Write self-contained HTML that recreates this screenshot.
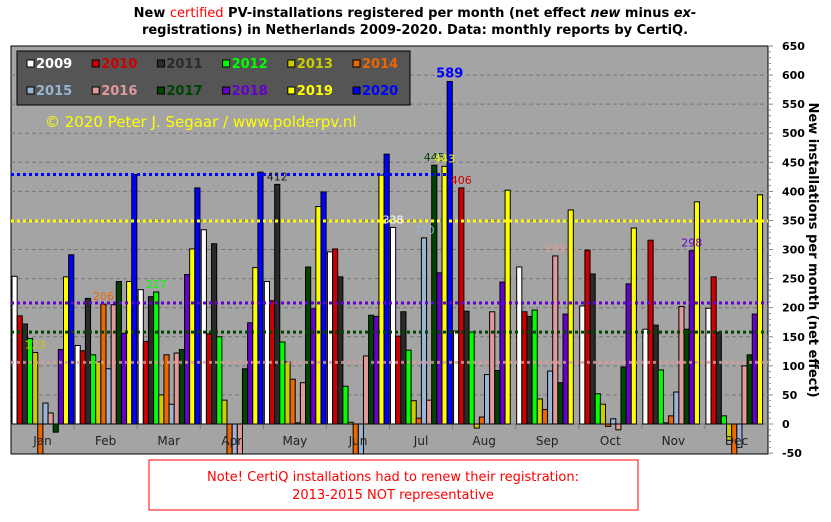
<!DOCTYPE html>
<html><head><meta charset="utf-8"><style>
body{margin:0;background:#fff;font-family:"Liberation Sans","DejaVu Sans",sans-serif}
svg text{font-family:"DejaVu Sans","Liberation Sans",sans-serif}
</style></head><body>
<svg id="c" width="831" height="517" xmlns="http://www.w3.org/2000/svg">
<text x="415" y="17" text-anchor="middle" font-size="13" font-weight="bold">New <tspan fill="#ff0000" font-weight="normal">certified</tspan> PV-installations registered per month (net effect <tspan font-style="italic">new</tspan> minus <tspan font-style="italic">ex-</tspan></text>
<text x="415" y="34" text-anchor="middle" font-size="13" font-weight="bold">registrations) in Netherlands 2009-2020. Data: monthly reports by CertiQ.</text>
<rect x="11" y="46" width="757" height="408" fill="#a4a4a4" stroke="#000"/>
<g id="grid"></g><g id="bars"></g><g id="avg"></g><g id="lbl"></g><g id="axis"></g>
<rect x="17" y="51" width="393" height="54" fill="#555" stroke="#000"/>
<g id="leg"></g>
<text x="45" y="127" font-size="15" fill="#ffff00" font-family="Liberation Sans">© 2020 Peter J. Segaar / www.polderpv.nl</text>
<text x="0" y="0" transform="translate(809,250) rotate(90)" text-anchor="middle" font-size="13" font-weight="bold">New installations per month (net effect)</text>
<rect x="149" y="460" width="489" height="50" fill="#fff" stroke="#ff0000"/>
<text x="393" y="481" text-anchor="middle" font-size="13" fill="#ff0000" font-family="Liberation Sans">Note! CertiQ installations  had to renew their registration:</text>
<text x="393" y="499" text-anchor="middle" font-size="13" fill="#ff0000" font-family="Liberation Sans">2013-2015 NOT representative</text>
</svg>
<script>
const months=["Jan","Feb","Mar","Apr","May","Jun","Jul","Aug","Sep","Oct","Nov","Dec"];
const years=["2009","2010","2011","2012","2013","2014","2015","2016","2017","2018","2019","2020"];
const colors=["#ffffff","#cc0000","#2a2a2a","#00ff00","#cccc00","#ee6600","#99b4d4","#e09a9a","#004400","#6600cc","#ffff00","#0000ff"];
const yTicks=[-50,0,50,100,150,200,250,300,350,400,450,500,550,600,650];
const v2009=[254,135,231,334,245,296,338,160,270,203,163,199];
const v2010=[186,126,142,155,212,301,151,406,193,299,316,253];
const v2011=[172,216,219,310,412,253,193,194,185,258,170,158];
const v2012=[147,119,227,150,141,65,127,158,196,52,93,14];
const v2013=[123,107,50,41,107,3,40,-7,43,34,2,-28];
const v2014=[-60,206,119,-60,77,-60,10,12,25,-4,14,-60];
const v2015=[36,95,34,-60,2,-60,320,85,91,9,55,-40];
const v2016=[19,205,122,-60,71,117,41,193,289,-10,202,100];
const v2017=[-14,245,128,95,270,187,445,92,71,98,163,119];
const v2018=[128,156,257,174,198,185,260,244,189,241,298,189];
const v2019=[253,245,301,269,374,428,443,402,368,337,382,394];
const v2020=[291,429,406,433,399,464,589,0,0,0,0,0];
const series=[v2009,v2010,v2011,v2012,v2013,v2014,v2015,v2016,v2017,v2018,v2019,v2020];
const avgValues=[429,349,208,158,106];
const avgSeries=[11,10,9,8,7];
const avgEndMonth=[7,12,12,12,12];
const labelSeries=[4,5,3,2,0,6,8,10,11,1,7,9];
const NS="http://www.w3.org/2000/svg";
const X0=11,W=757,Y0=424,K=378/650,MW=W/12,BW=5.15;
const y=v=>Y0-Math.max(v,-52)*K;
const bx=(m,s)=>X0+m*MW+1+s*BW;
function mk(t,a,p){const e=document.createElementNS(NS,t);for(const k in a)e.setAttribute(k,a[k]);document.getElementById(p).appendChild(e);return e;}
// grid + y axis
yTicks.forEach(t=>{
  if(t>-50&&t<650&&t!==0){const g=mk('line',{x1:X0,x2:X0+W,y1:y(t),y2:y(t),stroke:'#777','stroke-dasharray':'4,3'},'grid');
  
  }
  const tx=mk('text',{x:782,y:y(t)+4,'font-size':11,'font-weight':'bold'},'axis');tx.textContent=t;
  
  
});
for(let i=0;i<=70;i++){const v=-50+i*10;const l=mk('line',{x1:768,x2:i%5?771:773,y1:y(v),y2:y(v),stroke:'#888'},'axis');

}
const zl=mk('line',{x1:X0,x2:X0+W,y1:Y0,y2:Y0,stroke:'#777'},'grid');


months.forEach((m,i)=>{
  const t=mk('text',{x:X0+i*MW+MW/2,y:445,'font-size':12,'text-anchor':'middle',fill:'#222','font-family':'Liberation Sans'},'axis');t.textContent=m;
  
  
  if(i>0){const l=mk('line',{x1:X0+i*MW,x2:X0+i*MW,y1:Y0,y2:Y0+5,stroke:'#777'},'grid');
  
  }
});
// bars
series.forEach((ser,s)=>ser.forEach((v,m)=>{
  if(v===0)return;
  const top=Math.min(y(v),Y0),h=Math.abs(y(v)-Y0);
  const r=mk('rect',{x:bx(m,s),y:top,width:BW,height:Math.min(h,454-top),fill:colors[s],stroke:'#000','stroke-width':1},'bars');
  
  
}));
// averages
avgValues.forEach((v,i)=>{
  const l=mk('line',{x1:X0,x2:X0+avgEndMonth[i]*MW-(avgEndMonth[i]<12?4:0),y1:y(v),y2:y(v),stroke:colors[avgSeries[i]],'stroke-width':3,'stroke-dasharray':'3,3',opacity:avgSeries[i]===7?0.8:1},'avg');
  
  
});
// max labels
labelSeries.forEach(s=>{
  const ser=series[s];let mi=0;ser.forEach((v,i)=>{if(v>ser[mi])mi=i;});
  const t=mk('text',{x:bx(mi,s)+BW/2,y:y(ser[mi])-4,'font-size':s===11?13:11,'font-weight':s===11?'bold':'normal','text-anchor':'middle',fill:s===2?'#222':colors[s]},'lbl');
  t.textContent=ser[mi];
  
  
});
// legend
years.forEach((yr,i)=>{
  const lx=27+(i%6)*65.2,ly=i<6?65:92;
  const r=mk('rect',{x:lx,y:ly-5,width:7,height:7,fill:colors[i],stroke:'#000'},'leg');
  
  
  const t=mk('text',{x:lx+9,y:ly+3,'font-size':13,'font-weight':'bold',fill:colors[i]},'leg');t.textContent=yr;
  
  
});
</script>
</body></html>
